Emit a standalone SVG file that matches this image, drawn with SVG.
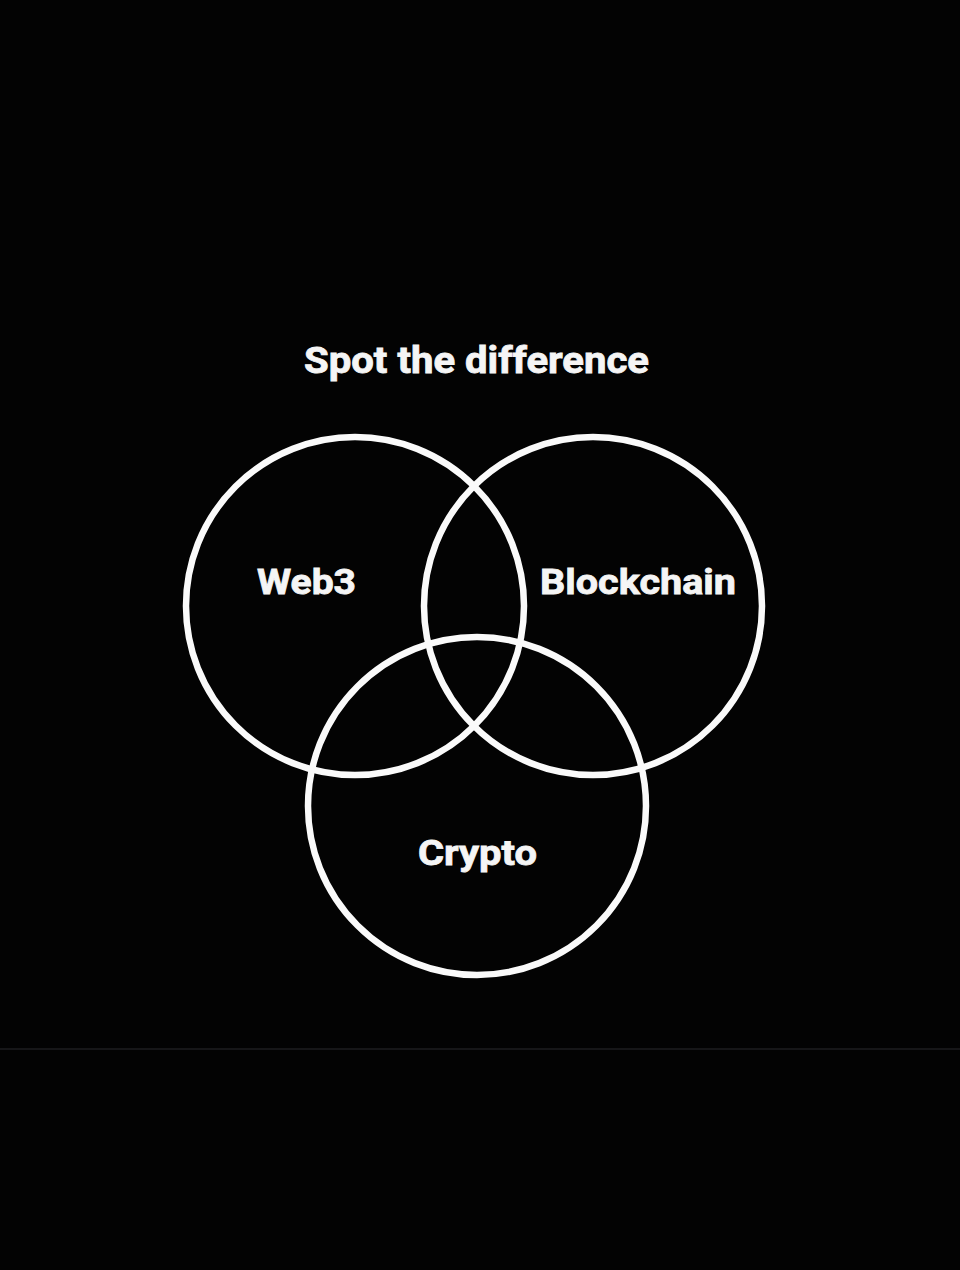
<svg xmlns="http://www.w3.org/2000/svg" width="960" height="1270" viewBox="0 0 960 1270">
<style>
.ring{fill:none;stroke:#fafafa;stroke-width:6.5}
.lbl{font-family:Roboto,"Liberation Sans",sans-serif;font-weight:bold;fill:#f5f5f5;stroke:#f5f5f5;stroke-width:0.8}
</style>
<rect x="0" y="0" width="960" height="1270" fill="#030303"/>
<line x1="0" y1="1049" x2="960" y2="1049" stroke="#1e1e20" stroke-width="1.5"/>
<g id="title"><text class="lbl" x="304" y="373" font-size="36" textLength="345" lengthAdjust="spacingAndGlyphs">Spot the difference</text></g>
<g id="connectors"></g>
<g id="web3"><circle class="ring" cx="355" cy="606" r="169"/><text class="lbl" x="257" y="594" font-size="35" textLength="99" lengthAdjust="spacingAndGlyphs">Web3</text></g>
<g id="blockchain"><circle class="ring" cx="593" cy="606" r="169"/><text class="lbl" x="540" y="594" font-size="35" textLength="196" lengthAdjust="spacingAndGlyphs">Blockchain</text></g>
<g id="crypto"><circle class="ring" cx="477" cy="806" r="169"/><text class="lbl" x="418" y="865" font-size="35" textLength="119" lengthAdjust="spacingAndGlyphs">Crypto</text></g>
</svg>
